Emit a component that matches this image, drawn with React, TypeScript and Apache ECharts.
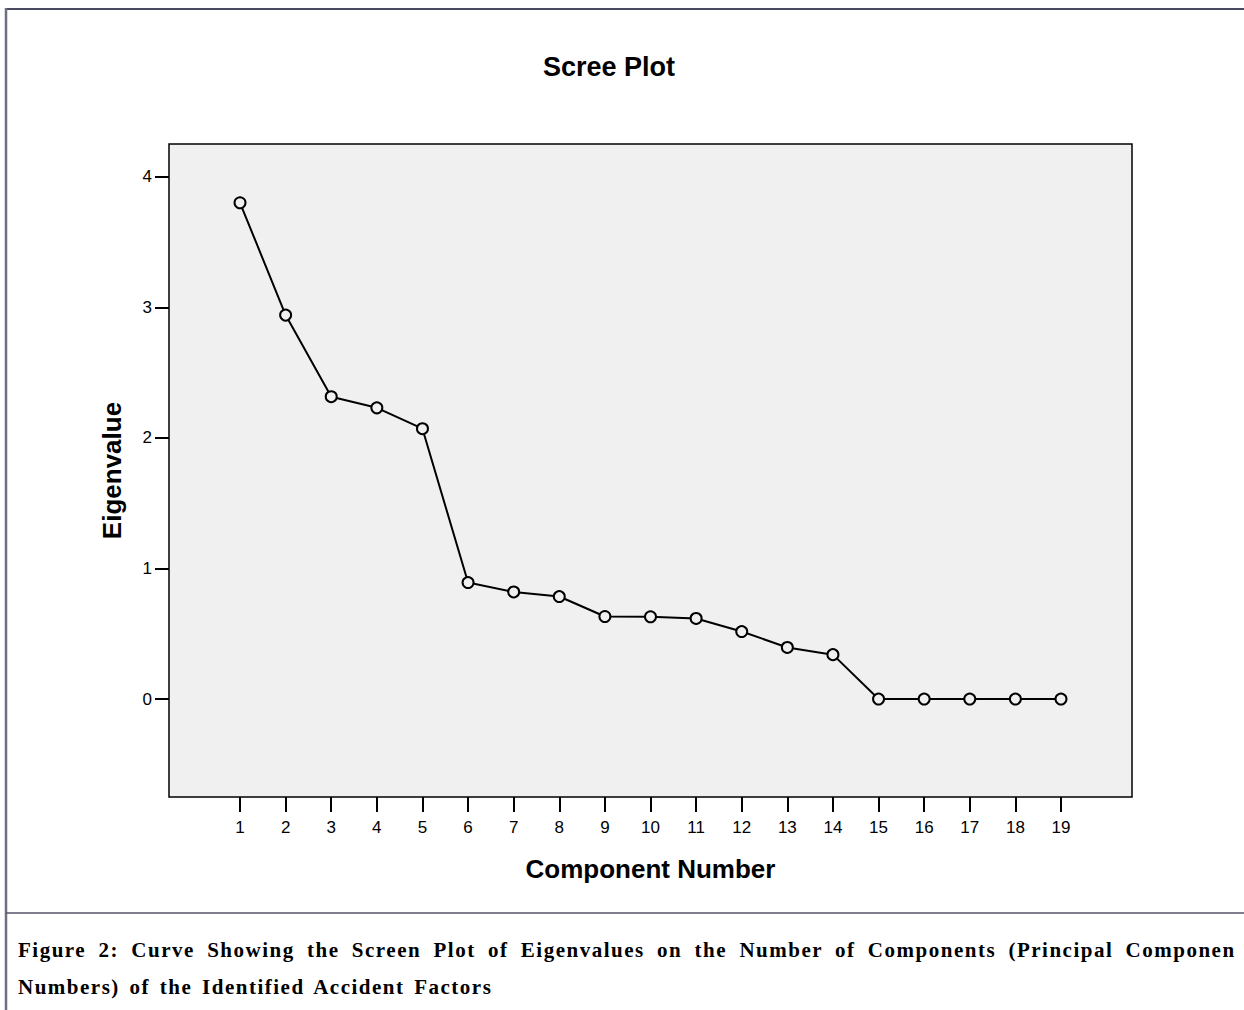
import React, { useEffect, useRef } from "react";
import * as echarts from "echarts";

const components = [1, 2, 3, 4, 5, 6, 7, 8, 9, 10, 11, 12, 13, 14, 15, 16, 17, 18, 19];
const eigenvalues = [3.8, 2.94, 2.315, 2.23, 2.07, 0.892, 0.82, 0.785, 0.632, 0.63, 0.617, 0.517, 0.395, 0.34, 0.0, 0.0, 0.0, 0.0, 0.0];
const yTicks = [0, 1, 2, 3, 4];
const titleText = "Scree Plot";
const xName = "Component Number";
const yName = "Eigenvalue";
const captionLine1 =
  "Figure 2: Curve Showing the Screen Plot of Eigenvalues on the Number of Components (Principal Componen";
const captionLine2 = "Numbers) of the Identified Accident Factors";

export default function App() {
  const ref = useRef<HTMLDivElement>(null);

  useEffect(() => {
    if (!ref.current) return;
    const chart = echarts.init(ref.current, undefined, { renderer: "svg" });
    const data = components.map((c, i) => [c, eigenvalues[i]]);
    const axisFont = "Arial, 'Liberation Sans', sans-serif";
    chart.setOption({
      animation: false,
      backgroundColor: "#ffffff",
      title: {
        text: titleText,
        left: 538,
        top: 48,
        textStyle: { fontFamily: axisFont, fontSize: 27, fontWeight: "bold", color: "#000" },
      },
      grid: {
        left: 169,
        top: 144,
        width: 963,
        height: 653,
        show: true,
        backgroundColor: "#f0f0f0",
        borderColor: "#000",
        borderWidth: 1.5,
        containLabel: false,
      },
      xAxis: {
        type: "value",
        min: -0.557,
        max: 20.557,
        splitLine: { show: false },
        axisLine: { show: false, onZero: false },
        axisTick: {
          show: true,
          length: 15,
          inside: false,
          customValues: components,
          lineStyle: { color: "#000", width: 2 },
        },
        axisLabel: {
          customValues: components,
          margin: 22,
          fontFamily: axisFont,
          fontSize: 17,
          color: "#000",
        },
        name: xName,
        nameLocation: "middle",
        nameGap: 59,
        nameTextStyle: { fontFamily: axisFont, fontSize: 26, fontWeight: "bold", color: "#000" },
      },
      yAxis: {
        type: "value",
        min: -0.75,
        max: 4.25,
        splitLine: { show: false },
        axisLine: { show: false, onZero: false },
        axisTick: {
          show: true,
          length: 14,
          customValues: yTicks,
          lineStyle: { color: "#000", width: 2 },
        },
        axisLabel: {
          customValues: yTicks,
          margin: 17,
          fontFamily: axisFont,
          fontSize: 17,
          color: "#000",
        },
        name: yName,
        nameLocation: "middle",
        nameRotate: 90,
        nameGap: 44,
        nameTextStyle: { fontFamily: axisFont, fontSize: 26, fontWeight: "bold", color: "#000" },
      },
      series: [
        {
          type: "line",
          data,
          symbol: "circle",
          symbolSize: 11,
          lineStyle: { color: "#000", width: 2 },
          itemStyle: { color: "#f0f0f0", borderColor: "#000", borderWidth: 2 },
          emphasis: { disabled: true },
          z: 3,
        },
      ],
      graphic: [
        {
          type: "line",
          shape: { x1: 5, y1: 9, x2: 1244, y2: 9 },
          style: { stroke: "#4a4a62", lineWidth: 2 },
        },
        {
          type: "line",
          shape: { x1: 6, y1: 8, x2: 6, y2: 1010 },
          style: { stroke: "#6e6e84", lineWidth: 2.5 },
        },
        {
          type: "line",
          shape: { x1: 6, y1: 913, x2: 1244, y2: 913 },
          style: { stroke: "#55556a", lineWidth: 1.5 },
        },
      ],
    });
    return () => chart.dispose();
  }, []);

  const captionStyle: React.CSSProperties = {
    position: "absolute",
    left: 18,
    fontFamily: "'Liberation Serif', 'Times New Roman', serif",
    fontWeight: "bold",
    fontSize: 21,
    color: "#000",
    whiteSpace: "nowrap",
    lineHeight: "24px",
  };

  return (
    <div style={{ position: "absolute", left: 0, top: 0, width: 1244, height: 1010, overflow: "hidden", background: "#fff" }}>
      <div ref={ref} style={{ position: "absolute", left: 0, top: 0, width: 1244, height: 1010 }} />
      <div style={{ ...captionStyle, top: 938, wordSpacing: "5.6px", letterSpacing: "1.5px" }}>{captionLine1}</div>
      <div style={{ ...captionStyle, top: 975, wordSpacing: "3px", letterSpacing: "1.5px" }}>{captionLine2}</div>
    </div>
  );
}
